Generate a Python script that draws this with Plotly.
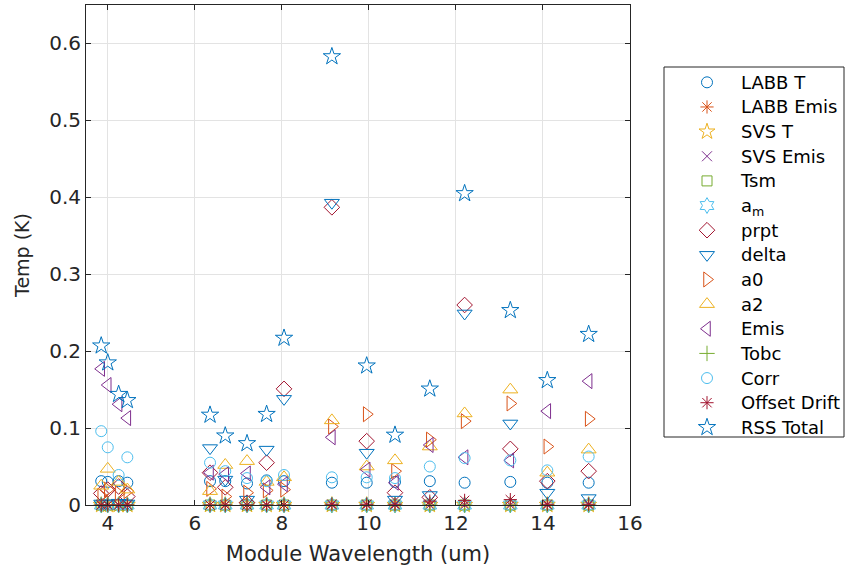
import plotly.graph_objects as go

# Module wavelengths (um)
wavelength = [3.85, 4.0, 4.25, 4.45, 6.35, 6.7, 7.2, 7.65, 8.05, 9.15, 9.95, 10.6, 11.4, 12.2, 13.25, 14.1, 15.05]

labb_t = [0.031, 0.030, 0.031, 0.029, 0.031, 0.031, 0.028, 0.032, 0.031, 0.029, 0.029, 0.030, 0.031, 0.029, 0.030, 0.029, 0.029]
labb_emis = [0.0] * 17
svs_t = [0.0] * 17
svs_emis = [0.0] * 17
tsm = [0.0] * 17
a_m = [0.0] * 17
prpt = [0.015, 0.020, 0.024, 0.011, 0.042, 0.023, 0.003, 0.055, 0.151, 0.387, 0.083, 0.016, 0.010, 0.260, 0.073, 0.031, 0.044]
delta = [0.002, 0.002, 0.003, 0.002, 0.074, 0.033, 0.007, 0.072, 0.138, 0.393, 0.068, 0.007, 0.013, 0.249, 0.106, 0.016, 0.009]
a0 = [0.012, 0.020, 0.015, 0.018, 0.021, 0.011, 0.016, 0.019, 0.020, 0.102, 0.118, 0.044, 0.085, 0.109, 0.132, 0.076, 0.112]
a2 = [0.025, 0.047, 0.030, 0.020, 0.018, 0.052, 0.057, 0.030, 0.036, 0.110, 0.050, 0.058, 0.076, 0.119, 0.150, 0.042, 0.072]
emis = [0.177, 0.156, 0.131, 0.113, 0.042, 0.040, 0.041, 0.023, 0.027, 0.088, 0.046, 0.029, 0.078, 0.062, 0.058, 0.122, 0.161]
tobc = [0.0] * 17
corr = [0.096, 0.075, 0.039, 0.062, 0.055, 0.044, 0.035, 0.031, 0.039, 0.036, 0.036, 0.035, 0.050, 0.061, 0.058, 0.045, 0.063]
offset_drift = [0, 0, 0, 0, 0, 0, 0, 0, 0, 0.001, 0.001, 0.001, 0.005, 0.006, 0.007, 0.001, 0.001]
rss_total = [0.207, 0.185, 0.144, 0.136, 0.117, 0.090, 0.080, 0.118, 0.217, 0.583, 0.181, 0.091, 0.151, 0.405, 0.253, 0.162, 0.222]

series_names = ["LABB T", "LABB Emis", "SVS T", "SVS Emis", "Tsm", "a<sub>m</sub>", "prpt", "delta",
                "a0", "a2", "Emis", "Tobc", "Corr", "Offset Drift", "RSS Total"]
series_values = [labb_t, labb_emis, svs_t, svs_emis, tsm, a_m, prpt, delta,
                 a0, a2, emis, tobc, corr, offset_drift, rss_total]

symbols = ["circle-open", "asterisk-open", "star-open", "x-thin-open", "square-open", "hexagram-open",
           "diamond-open", "triangle-down-open", "triangle-right-open", "triangle-up-open",
           "triangle-left-open", "cross-thin-open", "circle-open", "asterisk-open", "star-open"]
sizes = [11, 11, 12, 10, 10, 12, 12, 13, 13, 13, 13, 11, 11, 11, 13]
palette = ["#0072BD", "#D95319", "#EDB120", "#7E2F8E", "#77AC30", "#4DBEEE", "#A2142F"]

fig = go.Figure()
for i, (name, vals) in enumerate(zip(series_names, series_values)):
    col = palette[i % 7]
    fig.add_trace(go.Scatter(
        x=wavelength, y=vals, mode="markers", cliponaxis=False,
        name='<span style="font-size:18px">' + name + "</span>",
        marker=dict(symbol=symbols[i], size=sizes[i], color=col, line=dict(color=col, width=1)),
    ))

axis_common = dict(
    showgrid=True, gridcolor="#e3e3e3", gridwidth=1,
    showline=True, linecolor="#262626", linewidth=1, mirror="ticks",
    ticks="inside", ticklen=5, tickcolor="#262626", zeroline=False,
    tickfont=dict(size=20, color="#262626"), automargin=False,
)

W, H = 850, 568
L, R, T, B = 86, 220, 5, 63

fig.update_layout(
    width=W, height=H,
    margin=dict(l=L, r=R, t=T, b=B, autoexpand=False),
    paper_bgcolor="white", plot_bgcolor="white",
    font=dict(family="DejaVu Sans", size=20, color="#262626"),
    xaxis=dict(range=[3.5, 16], tickvals=[4, 6, 8, 10, 12, 14, 16],
               title=dict(text="Module Wavelength (um)", font=dict(size=21), standoff=12),
               **axis_common),
    yaxis=dict(range=[0, 0.65], tickvals=[0, 0.1, 0.2, 0.3, 0.4, 0.5, 0.6],
               ticktext=["0", "0.1", "0.2", "0.3", "0.4", "0.5", "0.6"],
               title=dict(text="Temp (K)", font=dict(size=19), standoff=14),
               **axis_common),
    legend=dict(xref="container", yref="container", x=673 / W, y=1 - 65 / H,
                xanchor="left", yanchor="top", maxheight=420,
                borderwidth=0, bgcolor="rgba(0,0,0,0)",
                font=dict(size=16.65, color="#000000"), itemwidth=58, tracegroupgap=0),
    shapes=[dict(type="rect", xref="paper", yref="paper",
                 x0=(664 - L) / (W - L - R), x1=(844 - L) / (W - L - R),
                 y0=(H - B - 437) / (H - T - B), y1=(H - B - 67) / (H - T - B),
                 line=dict(color="#262626", width=1), fillcolor="rgba(0,0,0,0)")],
)

fig.write_html("out.html", config={"displayModeBar": False},
               post_script="document.body.style.margin='0px';")
